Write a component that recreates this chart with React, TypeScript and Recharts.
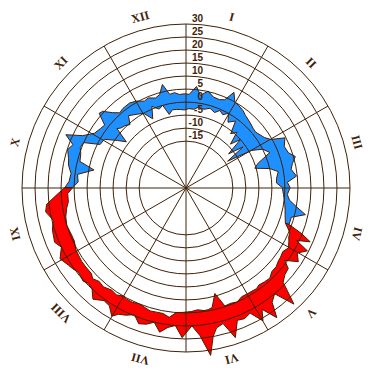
import React from 'react';
import { RadarChart, Radar, PolarGrid, PolarAngleAxis, PolarRadiusAxis } from 'recharts';

const MONTH_LABELS = ['I', 'II', 'III', 'IV', 'V', 'VI', 'VII', 'VIII', 'IX', 'X', 'XI', 'XII'];
const MONTH_TICKS = MONTH_LABELS.map((_, i) => ((i + 0.5) * 365) / 12);
const RADIUS_TICKS = [-15, -10, -5, 0, 5, 10, 15, 20, 25, 30];
const GRID_ANGLES = [0, 30, 60, 90, 120, 150, 180, 210, 240, 270, 300, 330];

// cold season (Oct -> Apr), day of year
const coldDays = [274, 277, 281, 285, 288, 292, 295, 298, 301, 305, 309, 312, 315, 317, 320, 323, 326, 331, 335, 339, 342, 346, 349, 352, 355, 358, 361, 364,
  2, 6, 9, 13, 17, 21, 24, 27, 30, 33, 37, 40, 43, 46, 49, 52, 55, 58, 61, 64, 68, 72, 75, 78, 81, 85, 88, 91, 95, 98, 101, 104, 107, 111];
const coldLow = [10.5, 8.5, 9.0, 3.0, 9.0, 9.5, 10.5, 10.0, 4.0, 3.5, -1.0, -4.0, 2.0, 1.0, 0.5, -0.5, 2.5, 1.0, 0.0, -3.5, 1.0, -1.0, 0.0, -4.0, -2.5, -2.6, -2.8, -3.0,
  -2.5, -2.6, -1.5, -2.0, -1.0, -2.0, -0.5, -1.5, 0.0, -3.0, -1.0, -6.0, -4.0, -9.0, -5.0, -12.0, -6.0, -14.0, -4.0, 0.0, 2.0, -3.7, -5.5, 0.0, 3.0, 2.0, 1.8, 4.0, 4.5, 5.0, 5.5, 6.0, 6.5, 7.5];
const coldHigh = [13.5, 12.0, 11.5, 13.0, 13.5, 14.8, 13.5, 17.5, 11.5, 8.0, 7.0, 6.5, 11.0, 10.5, 7.5, 5.5, 6.0, 6.2, 5.4, 4.0, 4.5, 3.5, 4.3, 7.8, 3.5, 3.9, 3.0, 3.2,
  3.0, 6.2, 3.0, 5.2, 3.5, 3.3, 4.0, 8.1, 5.0, 4.6, 3.9, 3.0, 2.5, 2.0, 1.5, 1.3, 2.0, 2.8, 4.5, 9.6, 8.0, 8.6, 10.7, 9.0, 8.0, 9.7, 6.0, 7.0, 6.0, 7.0, 10.0, 14.0, 9.0, 9.0];

// warm season (Apr -> Oct)
const warmDays = [111, 113, 115, 117, 119, 122, 125, 128, 130, 133, 136, 139, 142, 145, 147, 150, 152, 155, 158, 161, 164, 167, 170, 172, 174, 177, 180, 184,
  187, 190, 193, 196, 199, 202, 205, 208, 211, 213, 216, 219, 223, 226, 229, 231, 235, 238, 240, 244, 248, 251, 256, 260, 264, 267, 271, 274];
const warmLow = [7.5, 9.0, 10.5, 10.7, 11.5, 12.6, 11.5, 12.0, 12.2, 13.0, 13.0, 14.3, 14.0, 13.6, 14.2, 14.0, 14.0, 13.9, 15.0, 14.5, 14.7, 9.0, 14.0, 14.5, 14.6, 14.0, 14.5, 14.8,
  15.0, 17.1, 16.0, 16.0, 16.2, 15.5, 15.0, 15.5, 15.4, 15.0, 16.0, 15.5, 16.5, 16.0, 17.0, 16.0, 16.0, 16.0, 15.8, 15.5, 14.5, 14.5, 15.0, 14.5, 13.5, 12.5, 12.5, 10.5];
const warmHigh = [9.0, 14.5, 19.0, 14.0, 19.5, 16.5, 18.6, 14.0, 17.0, 17.5, 19.0, 27.9, 20.0, 22.0, 27.8, 22.0, 26.0, 21.0, 22.0, 21.5, 27.5, 21.0, 22.0, 25.0, 32.0, 24.0, 20.0, 24.5,
  20.0, 21.0, 23.3, 20.0, 21.5, 22.2, 19.5, 21.0, 22.0, 23.9, 21.0, 20.5, 22.7, 20.0, 19.5, 20.3, 19.5, 20.5, 21.0, 22.5, 20.0, 21.6, 20.8, 19.5, 21.7, 20.9, 16.4, 13.5];

// closed outlines: high values forward, low values back
const coldLoop = [
  ...coldDays.map((d, i) => ({ day: d, temp: coldHigh[i] })),
  ...coldDays.map((d, i) => ({ day: d, temp: coldLow[i] })).reverse(),
];
const warmLoop = [
  ...warmDays.map((d, i) => ({ day: d, temp: warmHigh[i] })),
  ...warmDays.map((d, i) => ({ day: d, temp: warmLow[i] })).reverse(),
];

const INK = '#3f2208';
const OUTLINE = '#4a1c00';
const W = 372;
const H = 376;
const CX = 186;
const CY = 188;
const R = 164;

const RadiusTick = (props: any) => {
  const { x, y, payload } = props;
  return (
    <text x={x + 17} y={y - 2} textAnchor="end" fontFamily="'Liberation Sans', Arial, sans-serif" fontWeight="bold" fontSize={10} fill={INK}>
      {payload.value}
    </text>
  );
};

const MonthTick = (props: any) => {
  const { x, y, payload } = props;
  const rot = 90 - payload.coordinate;
  const idx = Math.round((payload.value * 12) / 365 - 0.5);
  return (
    <text x={x} y={y} transform={`rotate(${rot} ${x} ${y})`} textAnchor="middle" dominantBaseline="central"
      fontFamily="'Liberation Serif', 'Times New Roman', serif" fontWeight="bold" fontSize={12} fill={INK}>
      {MONTH_LABELS[idx]}
    </text>
  );
};

const chartProps = {
  width: W, height: H, cx: CX, cy: CY, outerRadius: R, innerRadius: 0,
  startAngle: 90, endAngle: -270, margin: { top: 0, right: 0, bottom: 0, left: 0 },
};

export default function App() {
  return (
    <div style={{ position: 'absolute', left: 0, top: 0, width: W, height: H, overflow: 'hidden' }}>
      <div style={{ position: 'absolute', left: 0, top: 0 }}>
        <RadarChart {...chartProps} data={coldLoop}>
          <PolarAngleAxis dataKey="day" type="number" domain={[0, 365]} allowDataOverflow tick={false} tickLine={false} axisLine={false} />
          <PolarRadiusAxis angle={90} type="number" domain={[-33, 30]} allowDataOverflow tick={false} tickLine={false} axisLine={false} />
          <Radar dataKey="temp" fill="#1E90FF" fillOpacity={1} stroke={OUTLINE} strokeWidth={1} isAnimationActive={false} dot={false} />
        </RadarChart>
      </div>
      <div style={{ position: 'absolute', left: 0, top: 0 }}>
        <RadarChart {...chartProps} data={warmLoop}>
          <PolarAngleAxis dataKey="day" type="number" domain={[0, 365]} ticks={MONTH_TICKS} allowDataOverflow
            tick={<MonthTick />} tickLine={false} axisLine={false} tickSize={13} />
          <PolarRadiusAxis angle={90} type="number" domain={[-33, 30]} ticks={RADIUS_TICKS} allowDataOverflow
            axisLine={false} tickLine={false} tick={<RadiusTick />} />
          <Radar dataKey="temp" fill="#FF0000" fillOpacity={1} stroke={OUTLINE} strokeWidth={1} isAnimationActive={false} dot={false} />
          <PolarGrid gridType="circle" polarAngles={GRID_ANGLES} stroke={INK} strokeWidth={1} zIndex={300} />
        </RadarChart>
      </div>
    </div>
  );
}
